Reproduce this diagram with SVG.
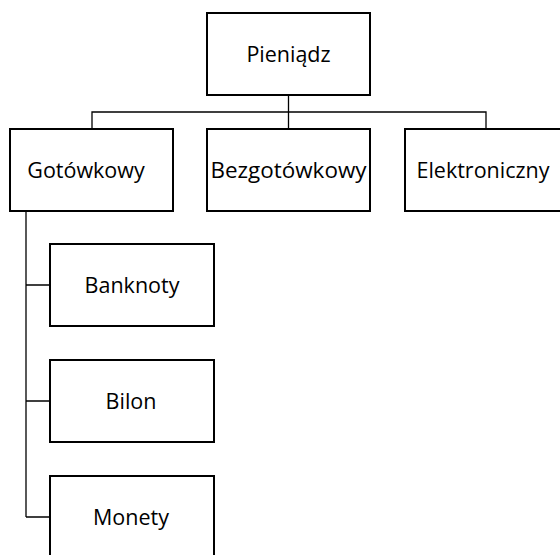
<svg xmlns="http://www.w3.org/2000/svg" width="560" height="555" viewBox="0 0 560 555">
<style>
.box{fill:#fff;stroke:#000;stroke-width:2}
.lbl{font-family:"Open Sans","Liberation Sans",sans-serif;font-size:21.5px;fill:#000;text-anchor:middle;dominant-baseline:central}
.con{fill:none;stroke:#000;stroke-width:1.3}
</style>
<rect width="560" height="555" fill="#fff"/>
<g id="connectors">
<path class="con" d="M288.5 95V112M92 129V112H486V129M288.5 112V129"/>
<path class="con" d="M26 211V517M26 285H50M26 401H50M26 517H50"/>
</g>
<g id="pieniadz"><rect class="box" x="207" y="13" width="163" height="82"/><text class="lbl" x="288.5" y="53">Pieniądz</text></g>
<g id="gotowkowy"><rect class="box" x="10" y="129" width="163" height="82"/><text class="lbl" x="86" y="169">Gotówkowy</text></g>
<g id="bezgotowkowy"><rect class="box" x="207" y="129" width="163" height="82"/><text class="lbl" x="288.5" y="169" textLength="156" lengthAdjust="spacingAndGlyphs">Bezgotówkowy</text></g>
<g id="elektroniczny"><rect class="box" x="405" y="129" width="163" height="82"/><text class="lbl" x="483" y="169">Elektroniczny</text></g>
<g id="banknoty"><rect class="box" x="50" y="244" width="164" height="82"/><text class="lbl" x="132" y="284">Banknoty</text></g>
<g id="bilon"><rect class="box" x="50" y="360" width="164" height="82"/><text class="lbl" x="131" y="400">Bilon</text></g>
<g id="monety"><rect class="box" x="50" y="476" width="164" height="82"/><text class="lbl" x="131" y="516">Monety</text></g>
</svg>
